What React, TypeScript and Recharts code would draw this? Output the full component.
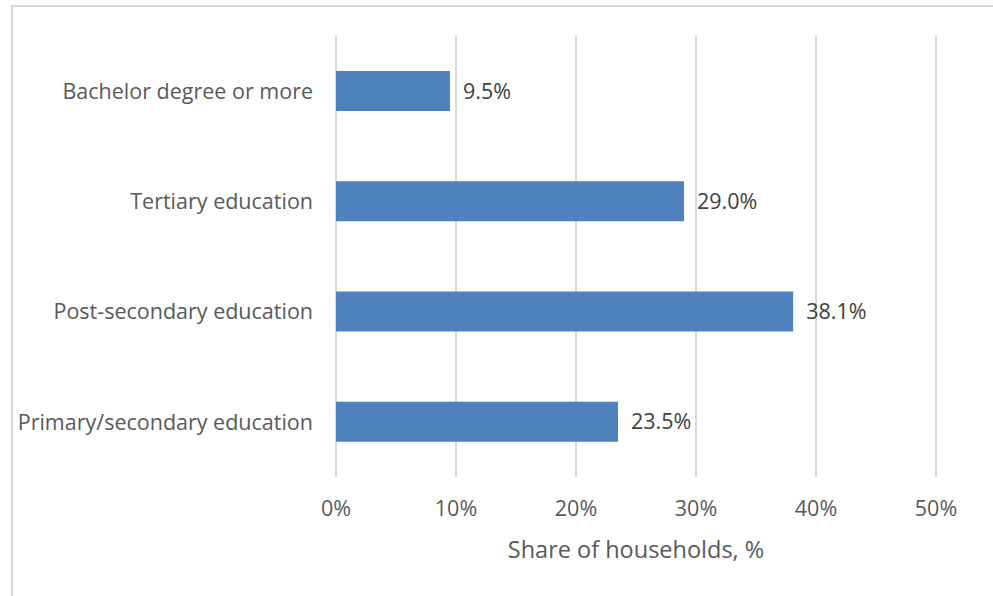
import { BarChart, Bar, XAxis, YAxis, CartesianGrid, LabelList } from 'recharts';

const CATEGORIES = [
  'Bachelor degree or more',
  'Tertiary education',
  'Post-secondary education',
  'Primary/secondary education',
];
const SHARES = [9.5, 29.0, 38.1, 23.5];
const X_TICKS = [0, 10, 20, 30, 40, 50];

const data = CATEGORIES.map((name, i) => ({ name, share: SHARES[i] }));

const FONT = '"Open Sans", Lato, sans-serif';
const AXIS_GREY = '#595959';

export default function App() {
  return (
    <div style={{ position: 'absolute', left: 0, top: 0, width: 993, height: 596, overflow: 'hidden', background: '#fff', fontFamily: FONT }}>
      <div style={{ position: 'absolute', left: 11, top: 5, width: 1200, height: 1200, border: '2px solid #d9d9d9', boxSizing: 'border-box' }} />
      <div style={{ position: 'absolute', left: 0, top: 0 }}>
        <BarChart
          width={993}
          height={596}
          data={data}
          layout="vertical"
          margin={{ top: 36, right: 57, left: 0, bottom: 0 }}
          barSize={40}
        >
          <CartesianGrid horizontal={false} stroke="#d9d9d9" strokeWidth={2} />
          <XAxis
            type="number"
            domain={[0, 50]}
            ticks={X_TICKS}
            tickFormatter={(v: number) => `${v}%`}
            axisLine={false}
            tickLine={false}
            tickSize={0}
            tickMargin={24}
            height={119}
            tick={{ fill: AXIS_GREY, fontSize: 21.5, fontFamily: FONT }}
            label={{ value: 'Share of households, %', position: 'insideBottom', offset: 38, fill: AXIS_GREY, fontSize: 23.5, fontFamily: FONT }}
          />
          <YAxis
            type="category"
            dataKey="name"
            width={336}
            axisLine={false}
            tickLine={false}
            tickSize={0}
            tickMargin={23}
            tick={{ fill: AXIS_GREY, fontSize: 21.5, fontFamily: FONT }}
          />
          <Bar dataKey="share" fill="#4f81bd" isAnimationActive={false}>
            <LabelList
              dataKey="share"
              position="right"
              offset={13}
              formatter={(v: number) => `${v.toFixed(1)}%`}
              style={{ fill: '#404040', fontSize: 21.5, fontFamily: FONT }}
            />
          </Bar>
        </BarChart>
      </div>
    </div>
  );
}
